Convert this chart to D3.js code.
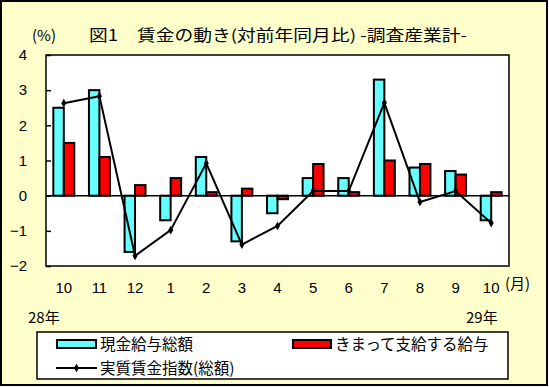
<!DOCTYPE html>
<html><head><meta charset="utf-8">
<script src="https://cdn.jsdelivr.net/npm/d3@7"></script>
<style>body{margin:0;padding:0;overflow:hidden;background:#fff}svg{display:block}text{font-family:"Noto Sans CJK JP","Noto Sans",sans-serif;fill:#000}</style>
</head><body>
<script>
const months = ["10","11","12","1","2","3","4","5","6","7","8","9","10"];
const cashTotal = [2.5, 3.0, -1.6, -0.7, 1.1, -1.3, -0.5, 0.5, 0.5, 3.3, 0.8, 0.7, -0.7];
const scheduled = [1.5, 1.1, 0.3, 0.5, 0.1, 0.2, -0.1, 0.9, 0.1, 1.0, 0.9, 0.6, 0.1];
const realIndex = [2.63, 2.83, -1.71, -0.98, 0.92, -1.39, -0.86, 0.13, 0.13, 2.64, -0.18, 0.13, -0.78];
const yTicks = [-2, -1, 0, 1, 2, 3, 4];
const seriesNames = ["現金給与総額", "きまって支給する給与", "実質賃金指数(総額)"];
const titleText = "図1　賃金の動き(対前年同月比) -調査産業計-";

const W = 549, H = 387;
const L = 46, R = 509, T = 55, B = 266;
const svg = d3.select("body").append("svg").attr("width", W).attr("height", H);

svg.append("rect").attr("x", 1).attr("y", 1).attr("width", W - 3).attr("height", H - 3)
  .attr("fill", "#FFFFCC").attr("stroke", "#000").attr("stroke-width", 2);

const x = d3.scaleBand().domain(d3.range(months.length)).range([L, R]).paddingInner(0).paddingOuter(0);
const y = d3.scaleLinear().domain([-2, 4]).range([B, T]);
const bw = x.bandwidth() / 3.4;

svg.append("rect").attr("x", L).attr("y", T).attr("width", R - L).attr("height", B - T)
  .attr("fill", "#fff").attr("stroke", "#000").attr("stroke-width", 1.5);

// y axis with inward ticks
const yAxis = d3.axisLeft(y).tickValues(yTicks).tickSize(-5).tickPadding(19)
  .tickFormat(d => d < 0 ? "−" + Math.abs(d) : String(d));
const ga = svg.append("g").attr("transform", `translate(${L},0)`).call(yAxis);
ga.select(".domain").remove();
ga.selectAll("line").attr("stroke", "#000").attr("stroke-width", 1.5);
ga.selectAll("text").attr("font-size", 15).style("font-family", '"Liberation Sans",sans-serif');

// bars
const cx = i => x(i) + x.bandwidth() / 2;
svg.append("g").selectAll("rect").data(cashTotal).join("rect")
  .attr("x", (d, i) => cx(i) - bw).attr("width", bw)
  .attr("y", d => y(Math.max(0, d))).attr("height", d => Math.abs(y(d) - y(0)))
  .attr("fill", "#66FFFF").attr("stroke", "#000").attr("stroke-width", 2);
svg.append("g").selectAll("rect").data(scheduled).join("rect")
  .attr("x", (d, i) => cx(i)).attr("width", bw)
  .attr("y", d => y(Math.max(0, d))).attr("height", d => Math.abs(y(d) - y(0)))
  .attr("fill", "#FF0000").attr("stroke", "#000").attr("stroke-width", 2);

// zero line
svg.append("line").attr("x1", L).attr("x2", R).attr("y1", y(0)).attr("y2", y(0))
  .attr("stroke", "#000").attr("stroke-width", 1.5);

// line series
const line = d3.line().x((d, i) => cx(i)).y(d => y(d));
svg.append("path").datum(realIndex).attr("d", line).attr("fill", "none")
  .attr("stroke", "#000").attr("stroke-width", 2);
const diamond = d3.symbol().type(d3.symbolDiamond).size(22);
svg.append("g").selectAll("path").data(realIndex).join("path")
  .attr("transform", (d, i) => `translate(${cx(i)},${y(d)})`).attr("d", diamond).attr("fill", "#000");

// x labels
svg.append("g").selectAll("text").data(months).join("text")
  .attr("x", (d, i) => cx(i)).attr("y", 293).attr("text-anchor", "middle")
  .attr("font-size", 15).style("font-family", '"Liberation Sans",sans-serif').text(d => d);
svg.append("text").attr("x", 505).attr("y", 289).attr("font-size", 15).text("(月)");
svg.append("text").attr("x", 28).attr("y", 323).attr("font-size", 15).text("28年");
svg.append("text").attr("x", 466).attr("y", 323).attr("font-size", 15).text("29年");

// title
svg.append("text").attr("x", 32).attr("y", 41).attr("font-size", 15).text("(%)");
svg.append("text").attr("x", 89).attr("y", 41).attr("font-size", 15.5)
  .attr("textLength", 378).attr("lengthAdjust", "spacingAndGlyphs").text(titleText);

// legend
svg.append("rect").attr("x", 37).attr("y", 332).attr("width", 471).attr("height", 47)
  .attr("fill", "#fff").attr("stroke", "#000").attr("stroke-width", 1.5);
svg.append("rect").attr("x", 57).attr("y", 340).attr("width", 39).attr("height", 8)
  .attr("fill", "#66FFFF").attr("stroke", "#000").attr("stroke-width", 2);
svg.append("text").attr("x", 100).attr("y", 350).attr("font-size", 15.5).text(seriesNames[0]);
svg.append("rect").attr("x", 293).attr("y", 340).attr("width", 38).attr("height", 8)
  .attr("fill", "#FF0000").attr("stroke", "#000").attr("stroke-width", 2);
svg.append("text").attr("x", 335).attr("y", 350).attr("font-size", 15.5).text(seriesNames[1]);
svg.append("line").attr("x1", 56).attr("x2", 97).attr("y1", 368).attr("y2", 368)
  .attr("stroke", "#000").attr("stroke-width", 2);
svg.append("path").attr("transform", "translate(76.5,368)").attr("d", diamond).attr("fill", "#000");
svg.append("text").attr("x", 100).attr("y", 374).attr("font-size", 15.5).text(seriesNames[2]);
</script>
</body></html>
